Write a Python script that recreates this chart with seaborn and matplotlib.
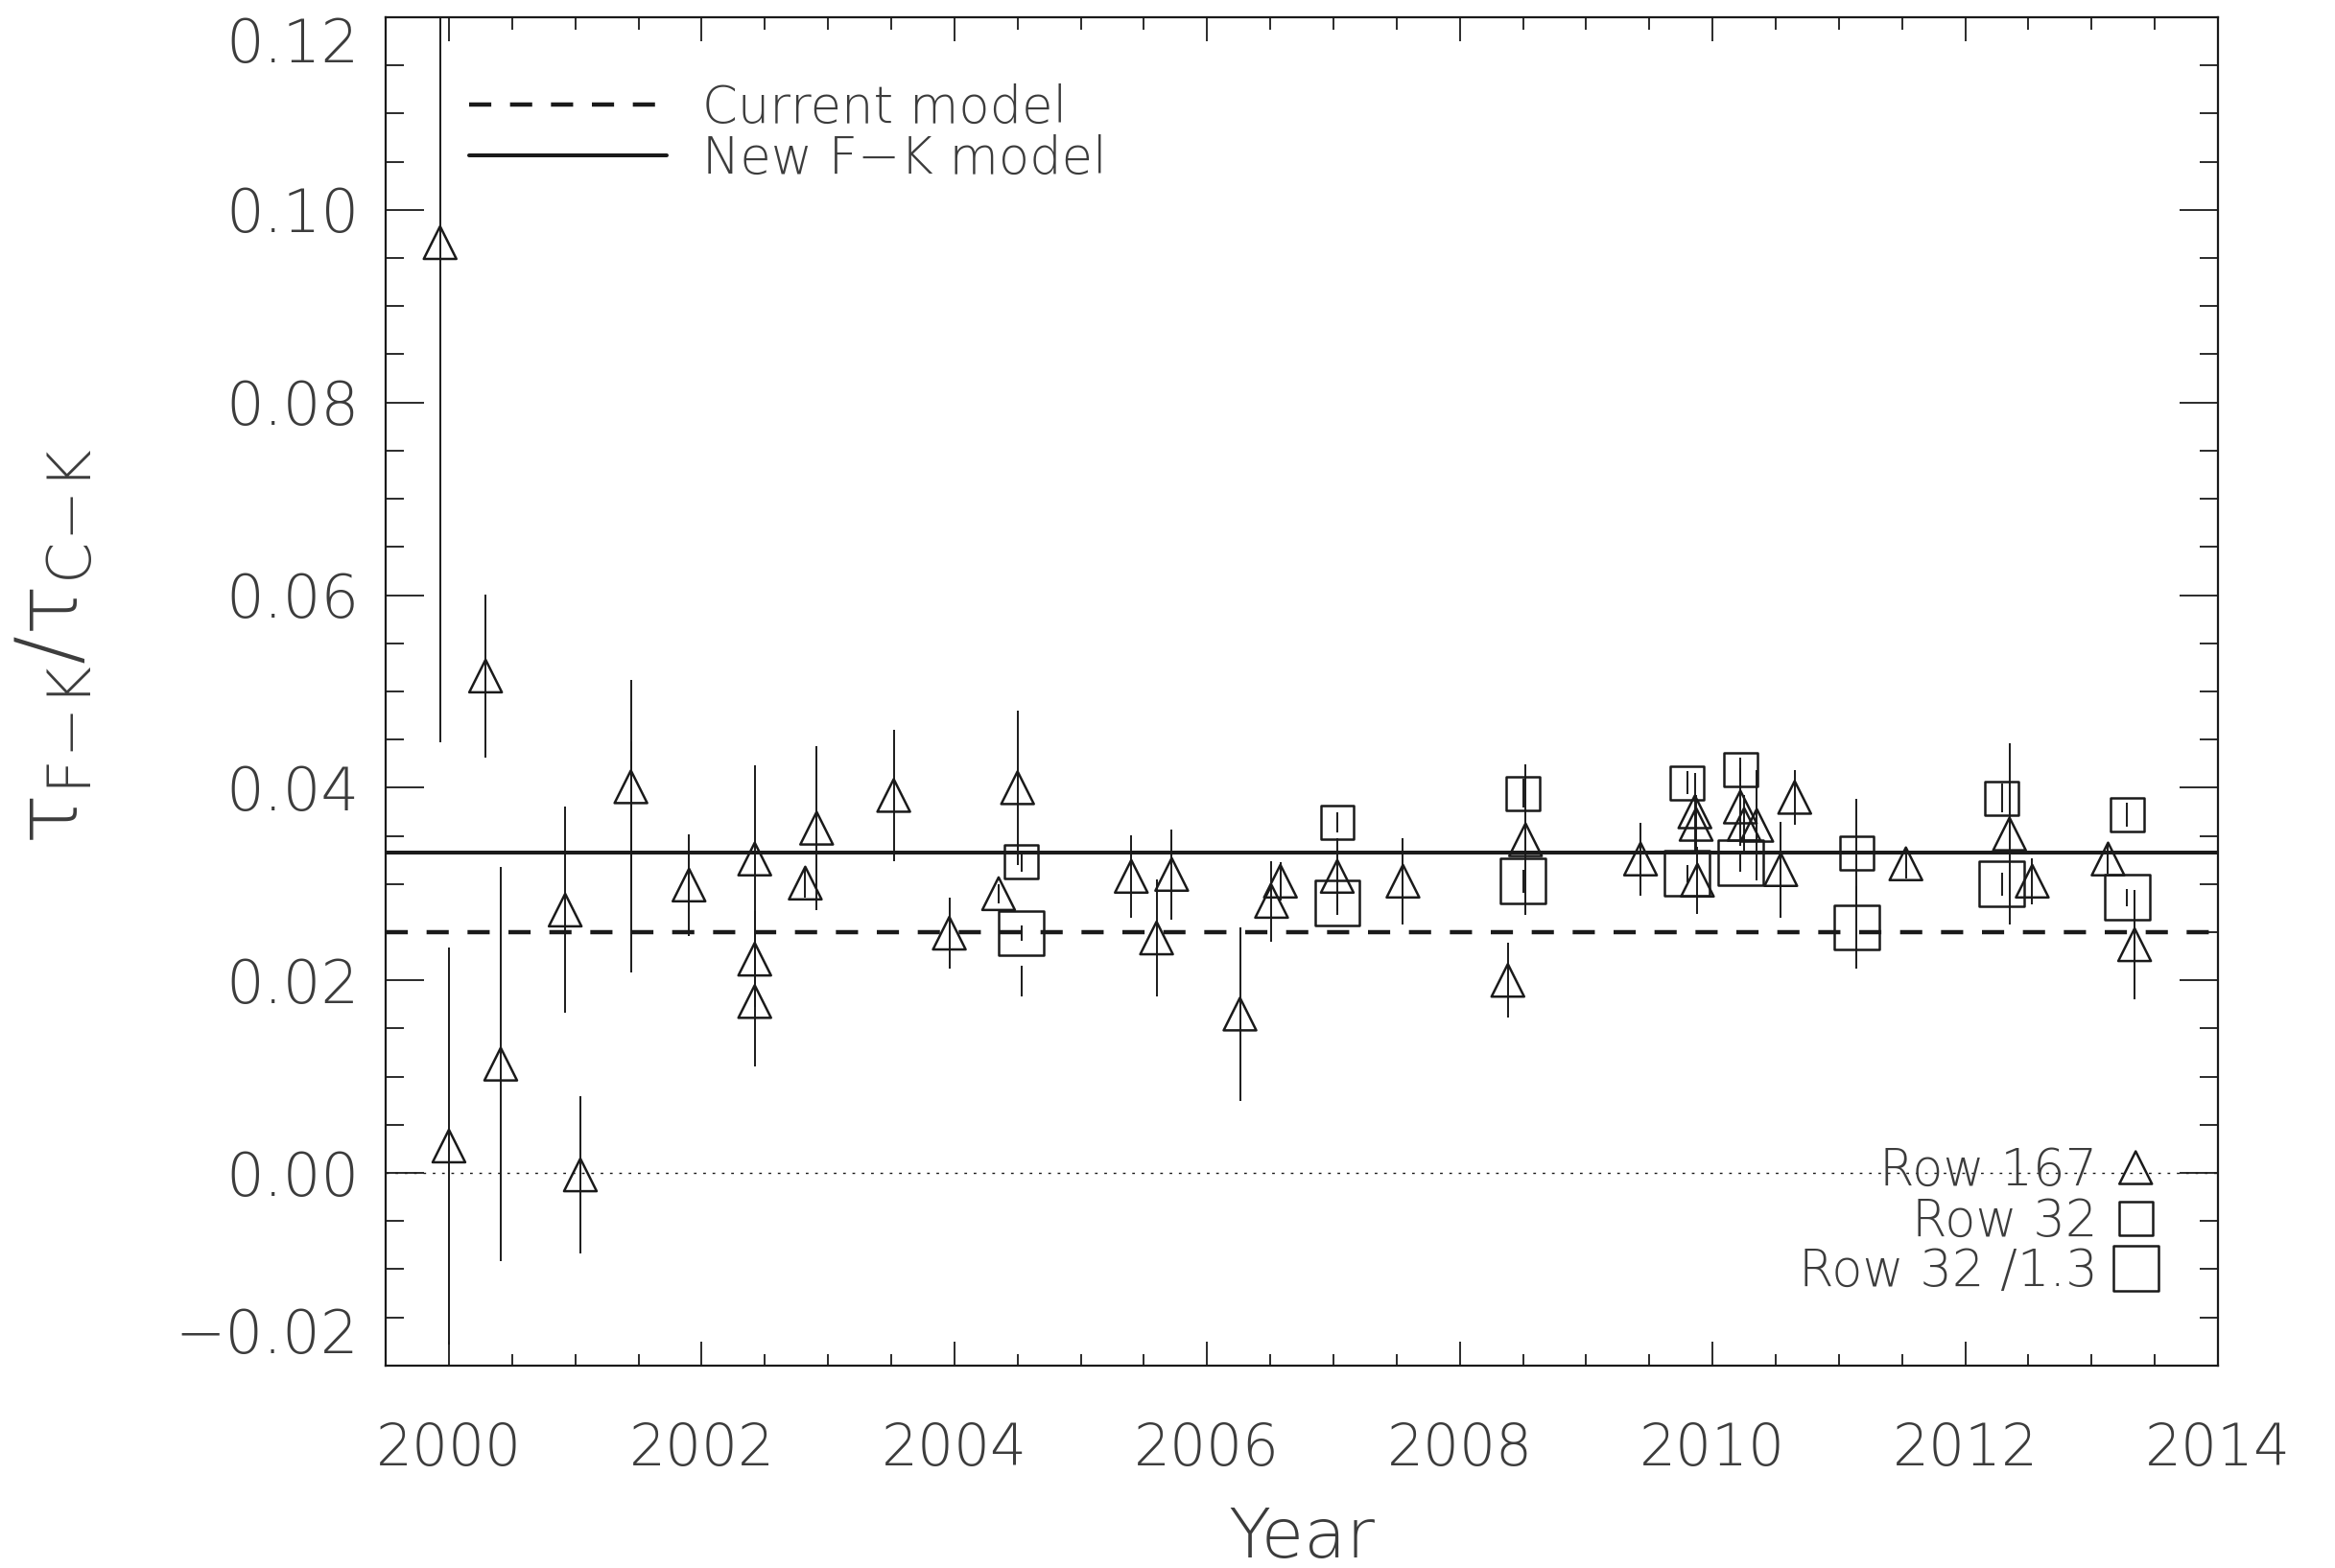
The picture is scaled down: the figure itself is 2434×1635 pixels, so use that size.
import matplotlib
matplotlib.use("Agg")
import matplotlib.pyplot as plt
from matplotlib.ticker import MultipleLocator
import pandas as pd
import seaborn as sns

# Row 167 (triangles): year, ratio, error
year_167 = [1999.93, 2000.00, 2000.29, 2000.41, 2000.92, 2001.04, 2001.44, 2001.90,
            2002.42, 2002.42, 2002.42, 2002.82, 2002.91, 2003.52, 2003.96, 2004.35,
            2004.50, 2005.40, 2005.60, 2005.72, 2006.26, 2006.51, 2006.58, 2007.03,
            2007.55, 2008.38, 2008.52, 2009.43, 2009.86, 2009.87, 2009.88, 2010.22,
            2010.25, 2010.35, 2010.54, 2010.65, 2011.53, 2012.35, 2012.53, 2013.13,
            2013.34]
ratio_167 = [0.0966, 0.0028, 0.0516, 0.0113, 0.0273, -0.0002, 0.0401, 0.0299,
             0.0326, 0.0222, 0.0178, 0.0301, 0.0358, 0.0392, 0.0249, 0.0290,
             0.0400, 0.0308, 0.0244, 0.0310, 0.0165, 0.0282, 0.0303, 0.0308,
             0.0303, 0.0200, 0.0346, 0.0326, 0.0375, 0.0362, 0.0304, 0.0380,
             0.0362, 0.0361, 0.0315, 0.0390, 0.0321, 0.0352, 0.0303, 0.0326,
             0.0237]
err_167 = [0.0519, 0.0206, 0.0085, 0.0205, 0.0107, 0.0082, 0.0, 0.0053,
           0.0097, 0.0050, 0.0067, 0.0015, 0.0085, 0.0068, 0.0037, 0.0010,
           0.0080, 0.0043, 0.0061, 0.0047, 0.0090, 0.0042, 0.0020, 0.0040,
           0.0045, 0.0039, 0.0078, 0.0038, 0.0040, 0.0030, 0.0035, 0.0040,
           0.0030, 0.0057, 0.0050, 0.0028, 0.0015, 0.0094, 0.0024, 0.0015,
           0.0057]

# Row 32 (small squares)
year_32 = [2004.53, 2007.03, 2008.50, 2009.80, 2010.22, 2011.14, 2012.29, 2013.28]
ratio_32 = [0.0323, 0.0364, 0.0394, 0.0405, 0.0419, 0.0332, 0.0389, 0.0372]
err_32 = [0.0010, 0.0010, 0.0015, 0.0012, 0.0012, 0.0056, 0.0015, 0.0012]

# Row 32 /1.3 (big squares)
ratio_32s = [0.0249, 0.0280, 0.0303, 0.0311, 0.0322, 0.0255, 0.0300, 0.0286]
err_32s = [0.0008, 0.0008, 0.0012, 0.0009, 0.0009, 0.0043, 0.0012, 0.0009]

# error bars drawn without a symbol of their own
year_bar = [2001.44, 2001.44, 2004.53]
ratio_bar = [0.0360, 0.0371, 0.0199]
err_bar = [0.0152, 0.0077, 0.0016]

current_model = 0.025
fk_model = 0.0333

sns.set_style("ticks")
plt.rcParams["font.family"] = ["DejaVu Sans"]
plt.rcParams["font.weight"] = "light"
plt.rcParams["axes.labelweight"] = "light"
plt.rcParams["mathtext.fontset"] = "custom"
plt.rcParams["mathtext.rm"] = "DejaVu Sans:light"
plt.rcParams["mathtext.it"] = "DejaVu Sans:light"
ink = "#1a1a1a"
txt = "#3c3c3c"
fs_leg = 38

fig = plt.figure(figsize=(24.34, 16.35), dpi=100)
ax = fig.add_axes([0.1652, 0.1291, 0.7847, 0.8599])

ax.axhline(0, color=ink, lw=1.0, ls=(0, (2, 5)), zorder=1)
cur = ax.axhline(current_model, color=ink, lw=3.2, ls=(0, (5.2, 4.4)),
                 label="Current model", zorder=2)
new = ax.axhline(fk_model, color=ink, lw=2.9, label="New F\u2212K model", zorder=2)

for yy, vv, ee in [(year_167, ratio_167, err_167), (year_32, ratio_32, err_32),
                   (year_32, ratio_32s, err_32s), (year_bar, ratio_bar, err_bar)]:
    ax.errorbar(yy, vv, yerr=ee, fmt="none", ecolor=ink, elinewidth=1.4,
                capsize=0, zorder=2)

df167 = pd.DataFrame({"year": year_167, "ratio": ratio_167})
df32 = pd.DataFrame({"year": year_32, "ratio": ratio_32, "ratio_s": ratio_32s})

sns.scatterplot(data=df167, x="year", y="ratio", marker="^", s=600,
                facecolor="none", edgecolor=ink, linewidth=1.8, ax=ax,
                legend=False, zorder=3)
tri = ax.collections[-1]
sns.scatterplot(data=df32, x="year", y="ratio", marker="s", s=630,
                facecolor="none", edgecolor=ink, linewidth=1.8, ax=ax,
                legend=False, zorder=3)
sq = ax.collections[-1]
sns.scatterplot(data=df32, x="year", y="ratio_s", marker="s", s=1140,
                facecolor="none", edgecolor=ink, linewidth=1.8, ax=ax,
                legend=False, zorder=3)
bigsq = ax.collections[-1]

ax.set_xlim(1999.5, 2014)
ax.set_ylim(-0.02, 0.12)
ax.set_xticks([2000, 2002, 2004, 2006, 2008, 2010, 2012, 2014])
ax.set_yticks([-0.02, 0.0, 0.02, 0.04, 0.06, 0.08, 0.10, 0.12])
ax.set_yticklabels(["\u22120.02", "0.00", "0.02", "0.04", "0.06", "0.08", "0.10", "0.12"])
ax.xaxis.set_minor_locator(MultipleLocator(0.5))
ax.yaxis.set_minor_locator(MultipleLocator(0.005))
ax.tick_params(axis="both", which="both", direction="in", top=True, right=True,
               color=ink, width=1.3, labelcolor=txt)
ax.tick_params(axis="x", which="major", length=18, pad=42, labelsize=43)
ax.tick_params(axis="x", which="minor", length=9)
ax.tick_params(axis="y", which="major", length=29, pad=20, labelsize=45)
ax.tick_params(axis="y", which="minor", length=14)
for s in ax.spines.values():
    s.set_linewidth(1.6)
    s.set_color(ink)

ylab = ax.get_yticklabels()
ylab[0].set_va("bottom")
ylab[-1].set_va("top")

ax.set_xlabel("Year", fontsize=52, color=txt)
ax.xaxis.set_label_coords(0.5, -0.104)
ax.set_ylabel(r"$\tau_{\rm F\!-\!K}/\tau_{\rm C\!-\!K}$", fontsize=64, color=txt)
ax.yaxis.set_label_coords(-0.158, 0.533)

leg1 = ax.legend(handles=[cur, new], loc="upper left", bbox_to_anchor=(0.0455, 0.951),
                 frameon=False, fontsize=fs_leg, handlelength=3.9, handletextpad=0.7,
                 borderpad=0, borderaxespad=0, labelspacing=0, labelcolor=txt)
ax.add_artist(leg1)

tri.set_label("Row 167")
sq.set_label("Row 32")
bigsq.set_label("Row 32 /1.3")
ax.legend(handles=[tri, sq, bigsq], loc="lower right", bbox_to_anchor=(0.9675, 0.0505),
          frameon=False, fontsize=fs_leg, markerfirst=False, handlelength=0.9,
          handletextpad=0.3, borderpad=0, borderaxespad=0, labelspacing=0,
          scatterpoints=1, scatteryoffsets=[0.5], labelcolor=txt)

fig.savefig("out.png", dpi=100, facecolor="white")
